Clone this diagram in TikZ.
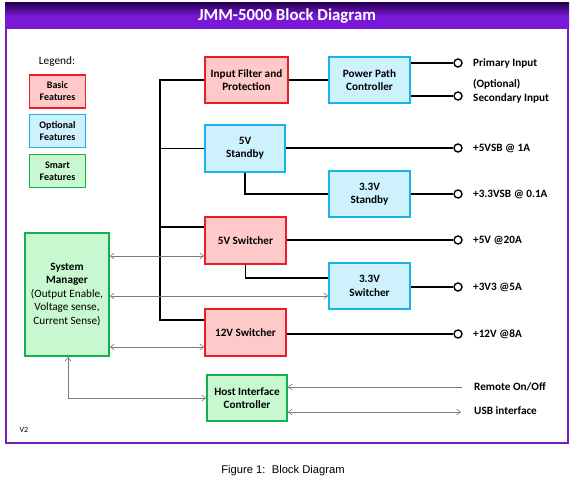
\documentclass[tikz,border=0pt]{standalone}
\usepackage{fontspec}
\setmainfont{Carlito}
\newfontfamily\capfont{Liberation Sans}
\usetikzlibrary{arrows.meta}
\definecolor{pframe}{HTML}{7020C0}
\definecolor{pdark}{HTML}{2A0055}
\definecolor{pmid}{HTML}{7A18D8}
\definecolor{rborder}{HTML}{EE1C24}
\definecolor{rfill}{HTML}{FFC9C9}
\definecolor{bborder}{HTML}{1AB2E8}
\definecolor{bfill}{HTML}{CDF1FD}
\definecolor{gborder}{HTML}{12B04F}
\definecolor{gfill}{HTML}{C8F8CF}
\definecolor{garr}{HTML}{7A7A7A}
\tikzset{
  blk/.style={draw, line width=1.6pt, minimum width=#1, align=center, inner sep=0.5pt, font=\fontsize{11.2}{13.4}\selectfont\bfseries},
  basic/.style={blk=81pt, fill=rfill, draw=rborder, minimum height=46pt},
  optional/.style={blk=81pt, fill=bfill, draw=bborder, minimum height=46pt},
  smart/.style={blk=80pt, fill=gfill, draw=gborder, minimum height=46pt},
  leg/.style={draw, line width=1.6pt, minimum width=56pt, minimum height=33pt, align=center, inner sep=0.5pt, font=\fontsize{10}{12}\selectfont\bfseries},
  term/.style={circle, draw, line width=1.4pt, minimum size=8pt, inner sep=0pt, fill=white},
  wire/.style={line width=1.1pt, black},
  garrow/.style={draw=garr, line width=0.6pt, {Straight Barb[length=4pt,width=6pt]}-{Straight Barb[length=4pt,width=6pt]}},
  gone/.style={draw=garr, line width=0.6pt, -{Straight Barb[length=4pt,width=6pt]}},
  lbl/.style={anchor=west, align=left, inner sep=0pt, font=\fontsize{11.2}{14}\selectfont\bfseries},
}
\begin{document}
\begin{tikzpicture}[x=1pt,y=-1pt]
\useasboundingbox (0,0) rectangle (572,481);
% frame and title
\draw[pframe, line width=2.5pt] (6,4) rectangle (568,443);
\shade[top color=pdark, bottom color=pmid, middle color=pmid] (5,3) rectangle (569,29);
\node[text=white, font=\fontsize{16.8}{19}\selectfont\bfseries] (title) at (287,16.5) {JMM-5000 Block Diagram};
% legend
\node[font=\fontsize{11.3}{13}\selectfont] (legend) at (57,62) {Legend:};
\node[leg, draw=rborder, fill=rfill] (lbasic) at (57.5,91.5) {Basic\\Features};
\node[leg, draw=bborder, fill=bfill] (lopt) at (57.5,131) {Optional\\Features};
\node[leg, draw=gborder, fill=gfill] (lsmart) at (57.5,171) {Smart\\Features};
% blocks
\node[basic, minimum width=83pt] (ifp) at (246.5,80) {Input Filter and\\Protection};
\node[optional] (ppc) at (369.5,80) {Power Path\\Controller};
\node[optional, minimum width=80pt, minimum height=47pt] (sb5) at (245,148.5) {5V\\Standby};
\node[optional] (sb33) at (369.5,194) {3.3V\\Standby};
\node[basic, minimum height=47pt] (sw5) at (245.5,240.5) {5V Switcher};
\node[optional] (sw33) at (369.5,286) {3.3V\\Switcher};
\node[basic, minimum height=47pt] (sw12) at (245.5,332.5) {12V Switcher};
\node[smart, minimum width=84pt, minimum height=123pt, font=\fontsize{11.2}{13.5}\selectfont] (sm) at (67,294.5) {\textbf{System}\\\textbf{Manager}\\(Output Enable,\\Voltage sense,\\Current Sense)};
\node[smart] (hic) at (247,398) {Host Interface\\Controller};
% terminals
\node[term] (t1) at (458,63) {};
\node[term] (t2) at (458,96) {};
\node[term] (t3) at (458,148) {};
\node[term] (t4) at (458,194) {};
\node[term] (t5) at (458,240) {};
\node[term] (t6) at (458,287) {};
\node[term] (t7) at (458,334) {};
% labels
\node[lbl] (l1) at (473,63) {Primary Input};
\node[lbl] (l2) at (473,91) {(Optional)\\Secondary Input};
\node[lbl] (l3) at (473,148) {+5VSB @ 1A};
\node[lbl] (l4) at (473,194) {+3.3VSB @ 0.1A};
\node[lbl] (l5) at (473,240) {+5V @20A};
\node[lbl] (l6) at (473,287) {+3V3 @5A};
\node[lbl] (l7) at (473,334) {+12V @8A};
\node[lbl] (l8) at (474,387) {Remote On/Off};
\node[lbl] (l9) at (474,411) {USB interface};
\node[font=\fontsize{8}{9}\selectfont] (ver) at (24,430) {V2};
\node[font=\capfont\fontsize{11.2}{13}\selectfont] (cap) at (283,471) {Figure 1:\ \ Block Diagram};
% bus
\coordinate (bt) at (160,80);
\coordinate (b5) at (160,227);
\coordinate (bb) at (160,320);
\draw[wire] (ifp.west) -- (bt) -- (bb) -- (bb -| sw12.west);
\draw[wire] (sb5.west) -- (sb5.west -| bt);
\draw[wire] (b5) -- (b5 -| sw5.west);
\draw[wire] (ifp) -- (ppc);
\draw[wire] (t1 -| ppc.east) -- (t1);
\draw[wire] (t2 -| ppc.east) -- (t2);
\draw[wire] (t3 -| sb5.east) -- (t3);
\draw[wire] (sb5.south) |- (sb33.west);
\draw[wire] (sb33.east) -- (t4);
\draw[wire] (t5 -| sw5.east) -- (t5);
\draw[wire] (sw5.south) |- ([yshift=8pt]sw33.west);
\draw[wire] (t6 -| sw33.east) -- (t6);
\draw[wire] (t7 -| sw12.east) -- (t7);
% gray arrows
\coordinate (a1) at (0,256);
\coordinate (a2) at (0,296);
\coordinate (a3) at (0,347);
\draw[garrow] (a1 -| sm.east) -- (a1 -| sw5.west);
\draw[garrow] (a2 -| sm.east) -- (a2 -| sw33.west);
\draw[garrow] (a3 -| sm.east) -- (a3 -| sw12.west);
\draw[garrow] ([xshift=1pt]sm.south) |- (hic.west);
\coordinate (rem) at (462,387);
\coordinate (usb) at (461,412);
\draw[gone] (rem) -- (rem -| hic.east);
\draw[garrow] (usb -| hic.east) -- (usb);
\end{tikzpicture}
\end{document}
